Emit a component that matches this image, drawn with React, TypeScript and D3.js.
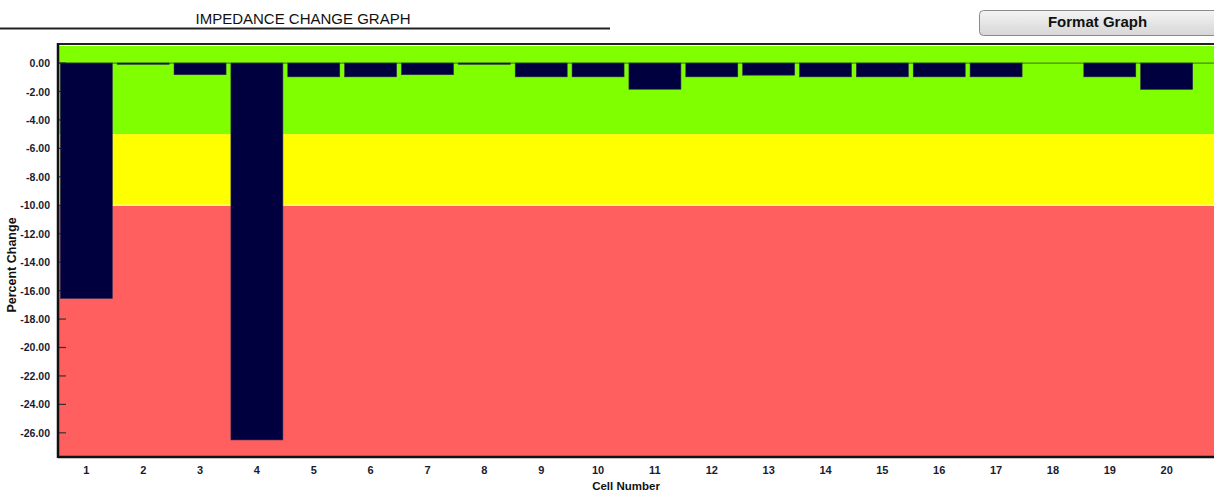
import React from "react";
import * as d3 from "d3";

const cells = ["1","2","3","4","5","6","7","8","9","10","11","12","13","14","15","16","17","18","19","20"];
const pctChange = [-16.55, -0.07, -0.82, -26.5, -0.97, -0.97, -0.82, -0.07, -0.97, -0.97, -1.84, -0.97, -0.85, -0.97, -0.97, -0.97, -0.97, 0, -0.97, -1.85];
const yTicks = [0, -2, -4, -6, -8, -10, -12, -14, -16, -18, -20, -22, -24, -26];
const zones = [
  { from: 1.34, to: -5, color: "#80FF00" },
  { from: -5, to: -10, color: "#FFFF00" },
  { from: -10, to: -27.7, color: "#FF5F5F" },
];

export default function App() {
  const W = 1214, H = 494;
  const left = 58, top = 44, bottom = 457;
  const step = 56.9;
  const x = d3.scaleBand<string>().domain(cells).range([57.5, 57.5 + step * 20]).paddingInner(0.086).paddingOuter(0.05);
  const y = d3.scaleLinear().domain([1.34, -27.7]).range([top, bottom]);
  const font = "'Liberation Sans', Arial, sans-serif";
  return (
    <svg width={W} height={H} style={{ position: "absolute", left: 0, top: 0 }} fontFamily={font}>
      <defs>
        <linearGradient id="btn" x1="0" y1="0" x2="0" y2="1">
          <stop offset="0" stopColor="#f4f4f4" />
          <stop offset="1" stopColor="#d6d6d6" />
        </linearGradient>
      </defs>
      <rect width={W} height={H} fill="#fff" />
      <text x={303} y={23.5} textAnchor="middle" fontSize={15} fill="#111">IMPEDANCE CHANGE GRAPH</text>
      <line x1={0} x2={610} y1={28.5} y2={28.5} stroke="#222" strokeWidth={2} />
      <rect x={979.5} y={10.5} width={260} height={25} rx={4} fill="url(#btn)" stroke="#8a8a8a" />
      <text x={1097.5} y={26.5} textAnchor="middle" fontSize={15} fontWeight="bold" fill="#111">Format Graph</text>
      {zones.map((z, i) => (
        <rect key={i} x={left} y={y(z.from)} width={W - left} height={y(z.to) - y(z.from)} fill={z.color} />
      ))}
      <line x1={left} x2={W} y1={y(-10)} y2={y(-10)} stroke="#fff" strokeWidth={1} />
      <line x1={left} x2={W} y1={top + 1.5} y2={top + 1.5} stroke="#fff" strokeWidth={1} />
      <line x1={left} x2={W} y1={y(0)} y2={y(0)} stroke="#4a8a10" strokeWidth={1.2} />
      {yTicks.map((t) => (
        <g key={t}>
          <line x1={left} x2={left + 8} y1={y(t)} y2={y(t)} stroke="#333" strokeWidth={1.2} />
          <text x={50} y={y(t) + 4} textAnchor="end" fontSize={10.5} fontWeight="bold" fill="#1a1a33">{t.toFixed(2)}</text>
        </g>
      ))}
      {cells.map((c, i) => {
        const v = pctChange[i];
        if (v === 0) return null;
        const y0 = y(0), y1 = Math.max(y(v), y0 + 1.2);
        return <rect key={c} x={x(c)} y={y0} width={x.bandwidth()} height={y1 - y0} fill="#00003f" stroke="#2a2a55" strokeWidth={0.6} />;
      })}
      <line x1={left} x2={W} y1={top} y2={top} stroke="#222" strokeWidth={2} />
      <line x1={left} x2={W} y1={bottom} y2={bottom} stroke="#111" strokeWidth={2.5} />
      <line x1={left} x2={left} y1={top - 1} y2={bottom + 1} stroke="#111" strokeWidth={2.5} />
      {cells.map((c) => (
        <text key={c} x={(x(c) as number) + x.bandwidth() / 2} y={474} textAnchor="middle" fontSize={11} fontWeight="bold" fill="#1a1a33">{c}</text>
      ))}
      <text x={626} y={490} textAnchor="middle" fontSize={11.5} fontWeight="bold" fill="#111">Cell Number</text>
      <text transform={`translate(16,265) rotate(-90)`} textAnchor="middle" fontSize={12.5} fontWeight="bold" fill="#111">Percent Change</text>
    </svg>
  );
}
